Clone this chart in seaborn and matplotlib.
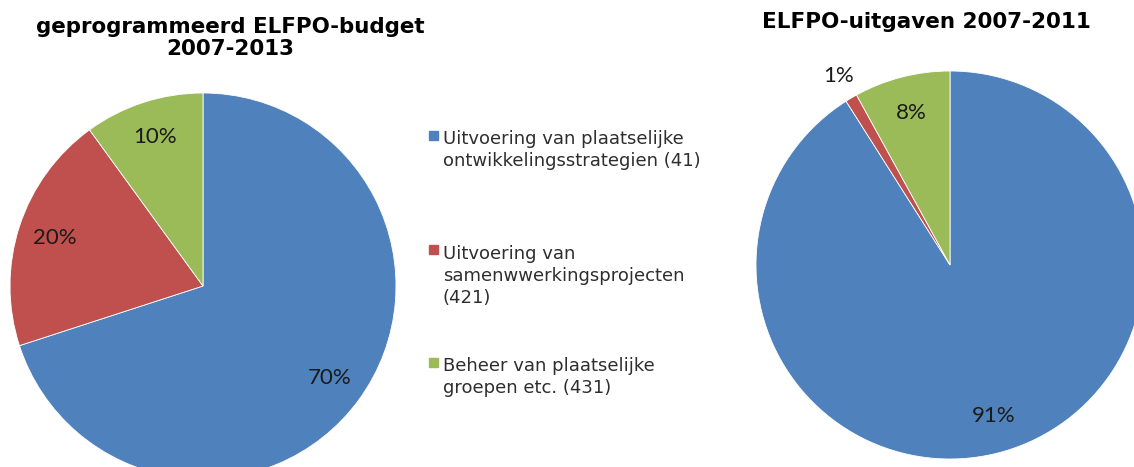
import numpy as np
import matplotlib
matplotlib.use("Agg")
import matplotlib.pyplot as plt
import seaborn as sns

# data
categories = [
    "Uitvoering van plaatselijke\nontwikkelingsstrategien (41)",
    "Uitvoering van\nsamenwwerkingsprojecten\n(421)",
    "Beheer van plaatselijke\ngroepen etc. (431)",
]
budget_pct = [70, 20, 10]
spent_pct = [91, 1, 8]
title_budget = "geprogrammeerd ELFPO-budget\n2007-2013"
title_spent = "ELFPO-uitgaven 2007-2011"

colors = ["#4F81BD", "#C0504D", "#9BBB59"]

sns.set_theme(style="white")
plt.rcParams["font.family"] = ["DejaVu Sans"]

W, H = 1134, 467
fig = plt.figure(figsize=(W / 100, H / 100), dpi=100)


def px_axes(cx, cy, r):
    # axes square in pixels, centred on the pie centre (cy measured from top)
    return fig.add_axes([(cx - r) / W, (H - cy - r) / H, 2 * r / W, 2 * r / H])


def draw_pie(ax, values):
    wedges, texts, autotexts = ax.pie(
        values, colors=colors, startangle=90, counterclock=False,
        autopct=lambda p: f"{p:.0f}%", pctdistance=0.81,
        wedgeprops=dict(linewidth=0.6, edgecolor="white"),
        textprops=dict(family="Lato", fontsize=16, color="#1a1a1a"),
        radius=1.0)
    for w, t, v in zip(wedges, autotexts, values):
        if v < 3:
            # small slice: label outside the pie
            ang = np.deg2rad((w.theta1 + w.theta2) / 2)
            t.set_position((1.13 * np.cos(ang), 1.13 * np.sin(ang)))
    ax.set_xlim(-1, 1)
    ax.set_ylim(-1, 1)
    ax.set_aspect("equal")
    ax.axis("off")
    for w in wedges:
        w.set_clip_on(False)


ax1 = px_axes(203, 286, 193)
draw_pie(ax1, budget_pct)

ax2 = px_axes(950, 265, 194)
draw_pie(ax2, spent_pct)

# titles (va=baseline on a multi-line text pins the last line)
fig.text(230 / W, 1 - 55 / H, title_budget, ha="center", va="baseline",
         fontsize=15.4, fontweight="bold", color="black", linespacing=1.12)
fig.text(926 / W, 1 - 28.5 / H, title_spent, ha="center", va="baseline",
         fontsize=15.5, fontweight="bold", color="black")

# legend, drawn by hand so the square sits on the first line of each entry
first_baselines = [143, 257, 370]
line_step = 22.8
for lab, col, b in zip(categories, colors, first_baselines):
    n = lab.count("\n")
    fig.patches.append(plt.Rectangle((429 / W, 1 - (b - 3) / H), 9 / W, 9 / H,
                                     transform=fig.transFigure, color=col))
    fig.text(443 / W, 1 - (b + n * line_step) / H, lab, ha="left", va="baseline",
             fontsize=13, color="#2e2e2e", linespacing=1.26)

fig.savefig("out.png", dpi=100)
